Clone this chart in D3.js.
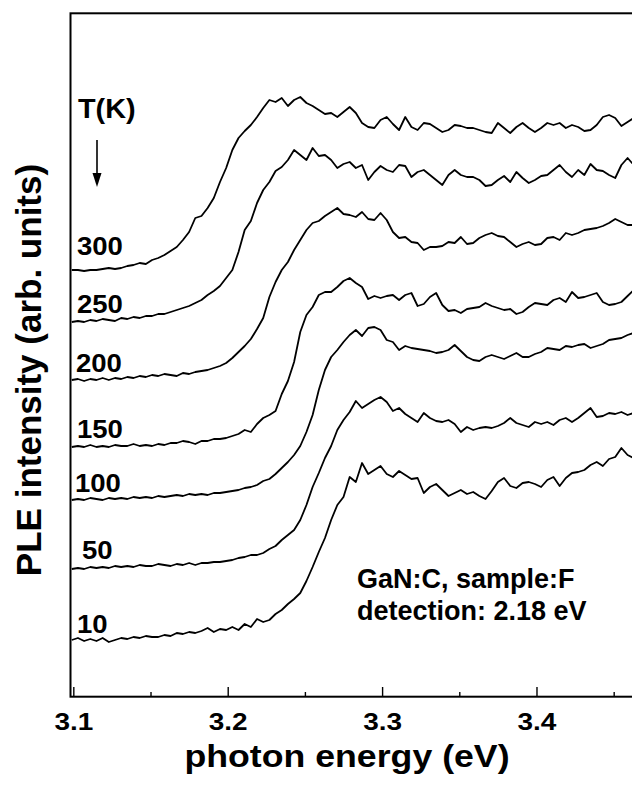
<!DOCTYPE html>
<html>
<head>
<meta charset="utf-8">
<script src="https://cdn.jsdelivr.net/npm/d3@7"></script>
<style>
  body { margin: 0; background: #fff; }
  svg { display: block; font-family: "Liberation Sans", Arial, Helvetica, sans-serif; font-weight: bold; }
</style>
</head>
<body>
<svg id="chart" width="632" height="785"></svg>
<script>
// photon energy grid (eV), shared by all spectra
const energy = [
  3.099, 3.103, 3.107, 3.111, 3.115, 3.119, 3.123, 3.127, 3.131, 3.135,
  3.139, 3.143, 3.147, 3.151, 3.155, 3.159, 3.163, 3.167, 3.171, 3.175,
  3.179, 3.183, 3.187, 3.191, 3.195, 3.199, 3.203, 3.207, 3.211, 3.215,
  3.219, 3.223, 3.227, 3.231, 3.235, 3.239, 3.243, 3.247, 3.251, 3.255,
  3.259, 3.263, 3.267, 3.271, 3.275, 3.279, 3.283, 3.287, 3.291, 3.295,
  3.299, 3.303, 3.307, 3.311, 3.315, 3.319, 3.323, 3.327, 3.331, 3.335,
  3.339, 3.343, 3.347, 3.351, 3.355, 3.359, 3.363, 3.367, 3.371, 3.375,
  3.379, 3.383, 3.387, 3.391, 3.395, 3.399, 3.403, 3.407, 3.411, 3.415,
  3.419, 3.423, 3.427, 3.431, 3.435, 3.439, 3.443, 3.447, 3.451, 3.455,
  3.459, 3.463
];

const temps = [300, 250, 200, 150, 100, 50, 10];

// PLE intensity (arb. units, curves already shifted vertically)
const ple300 = [
  42.7, 42.7, 42.6, 42.7, 42.7, 42.8, 42.9, 42.8, 42.9, 43.1,
  43.2, 43.4, 43.3, 43.7, 43.9, 44.2, 44.6, 45.0, 45.7, 46.5,
  47.9, 48.1, 48.9, 49.9, 51.5, 52.9, 54.7, 55.9, 56.6, 57.2,
  58.0, 58.9, 59.7, 59.5, 59.9, 59.1, 59.7, 60.0, 59.4, 59.1,
  58.7, 58.3, 58.4, 58.0, 58.5, 59.0, 58.4, 57.4, 57.0, 56.9,
  57.7, 58.0, 57.3, 56.7, 58.0, 57.0, 56.7, 57.4, 57.3, 56.9,
  56.5, 56.7, 57.2, 57.1, 56.9, 56.9, 56.7, 56.5, 56.4, 57.4,
  56.9, 56.4, 57.0, 57.4, 56.9, 56.5, 56.9, 57.4, 57.2, 57.4,
  56.9, 57.2, 57.0, 56.6, 56.7, 57.2, 58.0, 58.2, 57.9, 57.1,
  57.5, 57.9
];
const ple250 = [
  37.5, 37.6, 37.5, 37.7, 37.6, 37.8, 37.7, 37.6, 37.9, 37.8,
  38.0, 37.9, 38.1, 38.1, 38.3, 38.3, 38.5, 38.7, 38.9, 39.1,
  39.4, 39.7, 40.2, 40.6, 41.1, 41.9, 42.7, 44.5, 46.7, 47.6,
  49.4, 50.7, 51.5, 52.6, 53.0, 53.7, 54.7, 54.2, 53.7, 54.9,
  54.1, 54.2, 53.7, 52.9, 53.3, 53.5, 52.9, 53.2, 51.7, 52.5,
  53.1, 52.7, 52.5, 53.2, 53.1, 52.0, 52.5, 52.7, 52.2, 51.7,
  51.2, 52.2, 52.7, 52.2, 52.0, 52.0, 51.7, 51.1, 51.2, 51.7,
  52.1, 51.5, 52.5, 51.9, 51.4, 51.7, 52.1, 52.2, 52.7, 53.2,
  52.5, 52.0, 52.7, 52.2, 53.3, 52.7, 52.6, 52.2, 51.9, 53.2,
  53.9, 53.2
];
const ple200 = [
  31.7, 31.8, 31.6, 31.8, 31.7, 31.9, 31.7, 31.9, 31.8, 32.0,
  31.9, 32.1, 32.0, 32.2, 32.1, 32.3, 32.2, 32.1, 32.4, 32.3,
  32.5, 32.6, 32.7, 32.9, 33.1, 33.4, 33.9, 34.5, 35.1, 35.8,
  36.8, 37.9, 40.0, 41.5, 42.7, 43.5, 44.7, 45.7, 46.7, 47.4,
  47.6, 48.1, 48.5, 48.9, 48.3, 48.2, 48.0, 48.5, 47.8, 47.7,
  48.4, 47.7, 46.5, 45.9, 46.0, 45.5, 45.4, 44.7, 45.0, 45.0,
  45.1, 45.5, 45.4, 46.0, 45.3, 45.4, 45.9, 46.2, 46.4, 46.1,
  46.0, 45.5, 45.0, 45.3, 45.5, 45.2, 45.3, 45.9, 46.0, 45.7,
  46.4, 46.2, 46.4, 46.7, 46.8, 46.9, 47.1, 47.4, 47.8, 47.5,
  47.2, 47.2
];
const ple150 = [
  25.0, 25.1, 25.0, 25.2, 25.0, 25.1, 25.0, 25.2, 25.1, 25.1,
  25.3, 25.1, 25.2, 25.1, 25.3, 25.2, 25.4, 25.4, 25.6, 25.5,
  25.3, 25.6, 25.6, 25.8, 25.8, 25.9, 26.1, 26.3, 26.7, 26.5,
  27.3, 27.9, 28.2, 28.6, 30.3, 31.6, 33.5, 36.5, 38.2, 39.0,
  40.2, 40.5, 40.5, 41.0, 41.6, 41.9, 41.4, 41.0, 39.8, 40.1,
  39.9, 40.1, 40.2, 39.7, 40.2, 40.4, 39.1, 39.3, 40.0, 40.4,
  39.2, 38.6, 38.7, 38.4, 38.8, 38.9, 39.0, 39.4, 39.1, 38.9,
  38.7, 38.8, 38.3, 38.5, 39.0, 39.4, 39.3, 39.2, 39.7, 39.9,
  39.5, 40.5, 39.9, 40.0, 40.2, 40.4, 39.5, 39.2, 39.3, 39.5,
  40.1, 40.7
];
const ple100 = [
  19.7, 19.8, 19.7, 19.9, 19.8, 19.7, 19.9, 19.8, 19.9, 19.8,
  20.0, 19.9, 20.0, 19.9, 20.1, 20.0, 20.1, 20.2, 20.1, 20.3,
  20.2, 20.3, 20.2, 20.4, 20.4, 20.5, 20.6, 20.7, 20.9, 21.0,
  21.2, 21.6, 21.8, 22.3, 22.9, 23.5, 24.2, 25.1, 26.5, 28.2,
  30.7, 32.7, 34.0, 34.7, 35.5, 36.2, 36.7, 36.1, 36.9, 37.0,
  36.7, 35.7, 35.5, 34.7, 35.1, 34.9, 34.8, 34.7, 34.6, 34.4,
  34.5, 34.7, 35.2, 34.6, 34.0, 33.7, 33.6, 34.0, 34.2, 34.0,
  33.8, 34.1, 34.4, 34.0, 34.0, 34.3, 34.5, 34.9, 34.8, 34.7,
  35.1, 35.0, 35.2, 35.3, 34.9, 35.1, 35.3, 35.7, 35.8, 35.9,
  36.2, 36.4
];
const ple50 = [
  12.8, 12.9, 12.8, 13.0, 12.9, 13.0, 12.9, 13.1, 13.0, 13.1,
  13.0, 13.2, 13.1, 13.1, 13.3, 13.2, 13.1, 13.3, 13.2, 13.4,
  13.2, 13.4, 13.4, 13.5, 13.5, 13.6, 13.7, 13.9, 14.0, 14.2,
  14.2, 14.4, 14.8, 15.1, 15.7, 16.2, 16.7, 17.7, 19.2, 21.0,
  22.4, 23.9, 25.1, 26.7, 27.7, 28.5, 29.6, 28.9, 29.3, 29.7,
  30.0, 29.5, 28.6, 28.9, 28.3, 27.9, 27.5, 28.4, 27.9, 27.6,
  27.5, 27.7, 27.3, 26.5, 27.0, 26.7, 26.9, 27.0, 26.9, 27.1,
  27.4, 27.9, 27.4, 27.2, 27.0, 27.5, 27.3, 27.5, 27.2, 27.7,
  27.9, 27.5, 27.9, 28.4, 28.9, 28.0, 28.1, 28.4, 28.3, 28.5,
  28.2, 28.4
];
const ple10 = [
  5.7, 5.9, 5.6, 5.8, 5.6, 5.9, 5.5, 5.7, 5.9, 5.8,
  6.0, 5.9, 6.1, 6.0, 6.0, 6.2, 6.1, 6.4, 6.3, 6.5,
  6.4, 6.6, 6.9, 6.5, 6.8, 6.7, 7.0, 6.7, 7.3, 7.0,
  7.8, 7.5, 7.7, 8.3, 8.7, 9.3, 9.8, 10.4, 11.6, 13.0,
  14.5, 15.9, 17.7, 19.2, 20.0, 22.0, 21.5, 23.4, 22.3, 22.7,
  23.1, 22.3, 22.0, 22.6, 22.2, 21.8, 21.9, 20.4, 21.0, 21.3,
  20.7, 20.1, 20.4, 20.7, 20.3, 20.5, 20.1, 19.8, 20.6, 21.5,
  21.9, 21.1, 20.9, 21.4, 21.5, 21.3, 21.0, 21.7, 22.0, 21.1,
  21.9, 22.4, 22.5, 22.7, 23.2, 23.5, 23.1, 23.8, 24.0, 24.9,
  24.2, 23.9
];

const spectra = [ple300, ple250, ple200, ple150, ple100, ple50, ple10];

const majorTicks = [3.1, 3.2, 3.3, 3.4];
const minorTicks = [3.15, 3.25, 3.35, 3.45];
const noteLines = ["GaN:C, sample:F", "detection: 2.18 eV"];

// layout
const labelX = [77, 77, 76, 77, 75, 82, 77];
const labelLift = [15, 9, 8, 9, 8, 10, 7];

const svg = d3.select("#chart");

const x = d3.scaleLinear().domain([3.0985, 3.48]).range([71, 660]);
const y = d3.scaleLinear().domain([0, 68.4]).range([697, 13]);

// helper: bold text with a horizontal stretch like the scanned figure
function stretchText(g, tx, ty, str, size, sx, anchor) {
  return g
    .append("text")
    .attr("transform", `translate(${tx},${ty}) scale(${sx},1)`)
    .attr("text-anchor", anchor || "start")
    .attr("font-size", size)
    .attr("fill", "#000")
    .text(str);
}

svg
  .append("defs")
  .append("clipPath")
  .attr("id", "plot-clip")
  .append("rect")
  .attr("x", 71)
  .attr("y", 13)
  .attr("width", 589)
  .attr("height", 684);

// frame
svg
  .append("rect")
  .attr("x", 70.5)
  .attr("y", 13.3)
  .attr("width", 700)
  .attr("height", 683.4)
  .attr("fill", "none")
  .attr("stroke", "#000")
  .attr("stroke-width", 2);

// bottom axis, ticks pointing in
const gx = svg
  .append("g")
  .attr("transform", `translate(0,${y(0)})`)
  .call(
    d3
      .axisBottom(x)
      .tickValues(majorTicks)
      .tickSize(-10)
      .tickSizeOuter(0)
      .tickPadding(16)
      .tickFormat(d3.format(".1f")),
  );
gx.attr("font-family", null).attr("font-size", null);
gx.select(".domain").remove();
gx.selectAll("line").attr("stroke", "#000").attr("stroke-width", 1.4);
gx.selectAll("text")
  .attr("font-size", 23.3)
  .attr("fill", "#000")
  .attr("transform", "scale(1.2,1)");

const gxMinor = svg
  .append("g")
  .attr("transform", `translate(0,${y(0)})`)
  .call(
    d3.axisBottom(x).tickValues(minorTicks).tickSize(-5).tickSizeOuter(0).tickFormat(""),
  );
gxMinor.select(".domain").remove();
gxMinor.selectAll("line").attr("stroke", "#000").attr("stroke-width", 1.4);

// spectra
const line = d3
  .line()
  .x((d, i) => x(energy[i]))
  .y((d) => y(d));

svg
  .append("g")
  .attr("clip-path", "url(#plot-clip)")
  .selectAll(".spectrum")
  .data(spectra)
  .enter()
  .append("path")
  .attr("class", "spectrum")
  .attr("d", line)
  .attr("fill", "none")
  .attr("stroke", "#000")
  .attr("stroke-width", 1.8)
  .attr("stroke-linejoin", "round");

// temperature labels
const labels = svg.append("g");
temps.forEach((t, i) => {
  stretchText(labels, labelX[i], y(spectra[i][0]) - labelLift[i], String(t), 25, 1.1);
});

stretchText(labels, 78, 118, "T(K)", 28, 1.03);

// arrow under T(K)
svg
  .append("line")
  .attr("x1", 97)
  .attr("x2", 97)
  .attr("y1", 140)
  .attr("y2", 176)
  .attr("stroke", "#000")
  .attr("stroke-width", 1.6);
svg
  .append("path")
  .attr("d", "M92.5,173L101.5,173L97,187Z")
  .attr("fill", "#000");

// sample note
noteLines.forEach((s, i) => {
  stretchText(labels, 357, 588 + i * 32, s, 27, 1.0);
});

// axis titles
stretchText(svg, 347, 767, "photon energy (eV)", 30.5, 1.17, "middle");

svg
  .append("text")
  .attr("transform", "translate(41,370) rotate(-90)")
  .attr("text-anchor", "middle")
  .attr("font-size", 35)
  .attr("fill", "#000")
  .text("PLE intensity (arb. units)");
</script>
</body>
</html>
